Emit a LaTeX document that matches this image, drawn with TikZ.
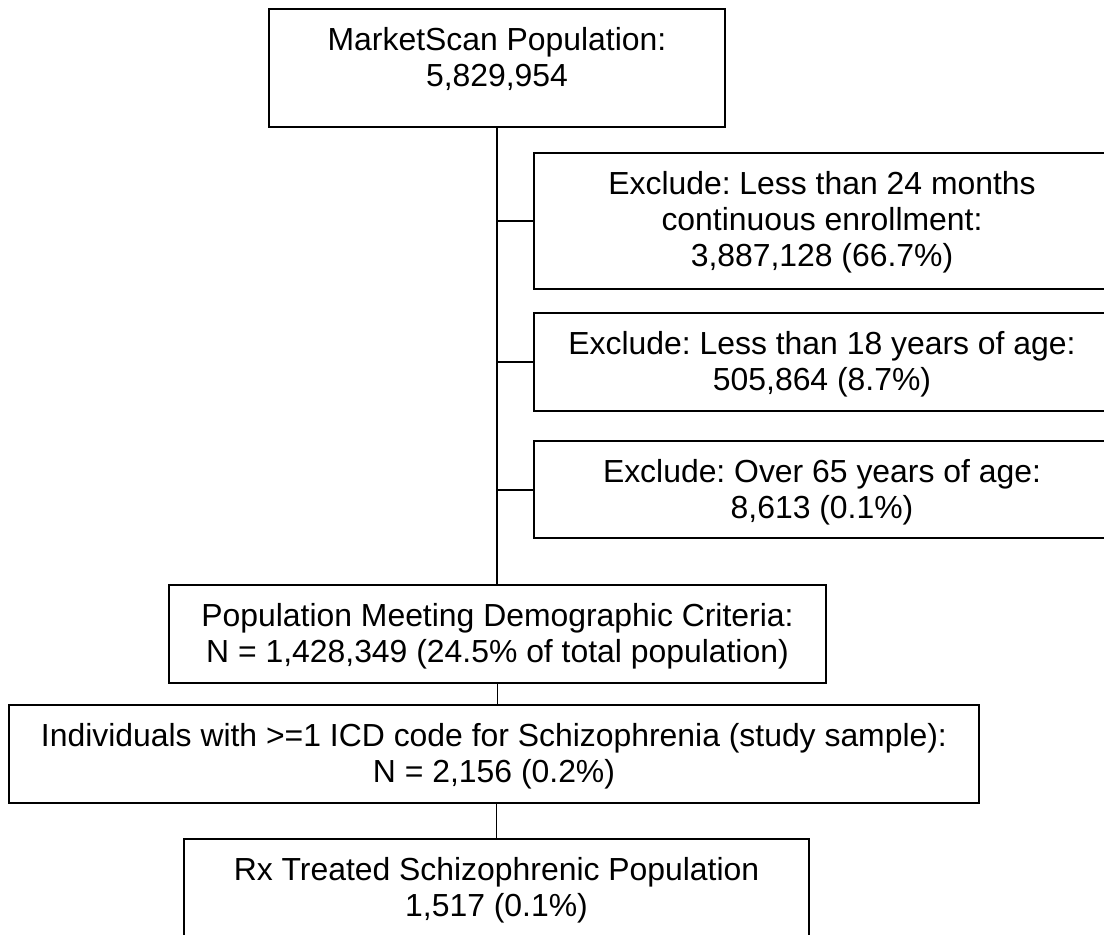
\documentclass[tikz,border=0pt]{standalone}
\usepackage{fontspec}
\setmainfont{Liberation Sans}
\frenchspacing
\begin{document}
\begin{tikzpicture}[x=1pt,y=-1pt,
  box/.style={draw=black, line width=2pt, inner xsep=0pt, inner ysep=0pt,
    text height=41pt, font=\fontsize{31.9}{36}\selectfont\frenchspacing},
  trunk/.style={draw=black, line width=2pt},
  link/.style={draw=black, line width=1.3pt}]
\useasboundingbox (0,0) rectangle (1104,935);
\clip (0,0) rectangle (1104,935);
\node[box, anchor=north, minimum width=456pt, text depth=77pt] (b1) at (497,8)
  {\begin{tabular}[t]{@{}c@{}}MarketScan Population:\\5,829,954\end{tabular}};
\node[box, anchor=north west, minimum width=576pt, text depth=95pt] (b2) at (533,152)
  {\begin{tabular}[t]{@{}c@{}}Exclude: Less than 24 months\\continuous enrollment:\\3,887,128 (66.7\%)\end{tabular}};
\node[box, anchor=north west, minimum width=576pt, text depth=57pt] (b3) at (533,312)
  {\begin{tabular}[t]{@{}c@{}}Exclude: Less than 18 years of age:\\505,864 (8.7\%)\end{tabular}};
\node[box, anchor=north west, minimum width=576pt, text depth=56pt] (b4) at (533,440)
  {\begin{tabular}[t]{@{}c@{}}Exclude: Over 65 years of age:\\8,613 (0.1\%)\end{tabular}};
\node[box, anchor=north west, minimum width=657pt, text depth=57pt] (b5) at (168,584)
  {\begin{tabular}[t]{@{}c@{}}Population Meeting Demographic Criteria:\\N = 1,428,349 (24.5\% of total population)\end{tabular}};
\node[box, anchor=north west, minimum width=970pt, text depth=57pt] (b6) at (8,704)
  {\begin{tabular}[t]{@{}c@{}}Individuals with >=1 ICD code for Schizophrenia (study sample):\\N = 2,156 (0.2\%)\end{tabular}};
\node[box, anchor=north west, minimum width=625pt, text depth=77pt] (b7) at (183,838)
  {\begin{tabular}[t]{@{}c@{}}Rx Treated Schizophrenic Population\\1,517 (0.1\%)\end{tabular}};
\draw[trunk] (b1.south) -- (b1.south |- b5.north);
\foreach \n in {b2,b3,b4} \draw[trunk] (b1.south |- \n.west) -- (\n.west);
\draw[link] (b5.south) -- (b5.south |- b6.north);
\draw[link] (b7.north |- b6.south) -- (b7.north);
\end{tikzpicture}
\end{document}
